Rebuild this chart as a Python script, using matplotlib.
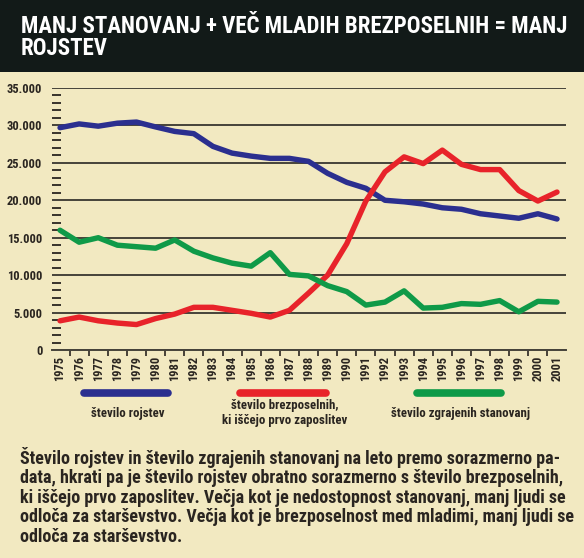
import matplotlib
matplotlib.use("Agg")
import matplotlib.pyplot as plt
from matplotlib import font_manager
from matplotlib.lines import Line2D
from matplotlib.patches import Rectangle
from matplotlib.ticker import MultipleLocator, FuncFormatter

# podatki (odčitani z grafa)
years = list(range(1975, 2002))
rojstva = [29700, 30200, 29900, 30300, 30450, 29800, 29200, 28900, 27200, 26300,
           25900, 25600, 25600, 25200, 23600, 22400, 21600, 20000, 19800, 19500,
           19000, 18800, 18200, 17900, 17600, 18200, 17500]
brezposelni = [3900, 4400, 3900, 3600, 3400, 4200, 4800, 5700, 5700, 5300,
               4900, 4400, 5300, 7600, 10000, 14200, 19900, 23800, 25800, 24900,
               26700, 24800, 24100, 24100, 21300, 19900, 21100]
stanovanja = [16000, 14400, 15000, 14000, 13800, 13600, 14700, 13200, 12300, 11600,
              11200, 13000, 10100, 9900, 8600, 7800, 6000, 6400, 7900, 5600,
              5700, 6200, 6100, 6600, 5100, 6500, 6400]

series_labels = ["število rojstev", "število brezposelnih,\nki iščejo prvo zaposlitev",
                 "število zgrajenih stanovanj"]
colors = ["#2b2f8f", "#e8232a", "#0f9a48"]

title = "MANJ STANOVANJ + VEČ MLADIH BREZPOSELNIH = MANJ\nROJSTEV"
body = ("Število rojstev in število zgrajenih stanovanj na leto premo sorazmerno pa-\n"
        "data, hkrati pa je število rojstev obratno sorazmerno s število brezposelnih,\n"
        "ki iščejo prvo zaposlitev. Večja kot je nedostopnost stanovanj, manj ljudi se\n"
        "odloča za starševstvo. Večja kot je brezposelnost med mladimi, manj ljudi se\n"
        "odloča za starševstvo.")

BG = "#f2e9c1"
DARK = "#121a18"
INK = "#2a2520"
GRID = "#46433a"

# ozka pisava, če obstaja
names = {f.name for f in font_manager.fontManager.ttflist}
FONT = "Roboto"
for cand in ["Roboto Condensed", "Liberation Sans Narrow", "Open Sans Condensed"]:
    if cand in names:
        FONT = cand
        break
plt.rcParams["font.family"] = [FONT, "DejaVu Sans"]
plt.rcParams["font.weight"] = "bold"

W, H = 584, 558
fig = plt.figure(figsize=(W / 100, H / 100), dpi=100, facecolor=BG)

def fx(px):
    return px / W

def fy(py):
    return 1 - py / H

# temna glava z naslovom
fig.patches.append(Rectangle((0, fy(72)), 1, 72 / H, transform=fig.transFigure,
                             facecolor=DARK, edgecolor="none", zorder=0))
fig.text(fx(21), fy(15), title, color="white", fontsize=16.5, fontweight="bold",
         va="top", ha="left", linespacing=0.93)

ax = fig.add_axes([fx(52), fy(350), fx(514), 262 / H])
ax.set_facecolor("none")

for vals, c in zip([rojstva, brezposelni, stanovanja], colors):
    ax.plot(years, vals, color=c, lw=3.9, solid_joinstyle="round",
            solid_capstyle="round", zorder=3)

ax.set_xlim(1974.58, 2001.47)
ax.set_ylim(0, 35000)

ax.set_yticks(range(0, 35001, 5000))
ax.yaxis.set_major_formatter(FuncFormatter(lambda v, p: f"{int(v):,}".replace(",", ".")))
ax.yaxis.set_minor_locator(MultipleLocator(1000))
ax.yaxis.grid(True, color=GRID, lw=1.4)
ax.set_axisbelow(True)
ax.tick_params(axis="y", which="major", length=0, pad=7, labelsize=9, labelcolor=INK)
ax.tick_params(axis="y", which="minor", direction="in", length=6.5, width=1.3, color=INK)

ax.set_xticks(years)
ax.set_xticklabels([str(y) for y in years], rotation=90)
ax.set_xticks([y + 0.5 for y in years[:-1]], minor=True)
ax.tick_params(axis="x", which="major", length=0, pad=4, labelsize=9, labelcolor=INK)
ax.tick_params(axis="x", which="minor", direction="out", length=4.5, width=1.2, color=INK)

for s in ["top", "right", "left"]:
    ax.spines[s].set_visible(False)
ax.spines["bottom"].set_color(GRID)
ax.spines["bottom"].set_linewidth(1.4)

# legenda
leg_x = [(84, 168), (240, 326), (417, 501)]
for (x0, x1), c, lab in zip(leg_x, colors, series_labels):
    fig.add_artist(Line2D([fx(x0), fx(x1)], [fy(393), fy(393)], color=c, lw=5.5,
                          solid_capstyle="round", transform=fig.transFigure))
    fig.text(fx((x0 + x1) / 2 + 2), fy(413), lab, ha="center", va="center", fontsize=9.3,
             color=INK, linespacing=1.15)

fig.text(fx(20), fy(447), body, ha="left", va="top", fontsize=13,
         color=INK, linespacing=1.1)

fig.savefig("out.png", dpi=100, facecolor=BG)
